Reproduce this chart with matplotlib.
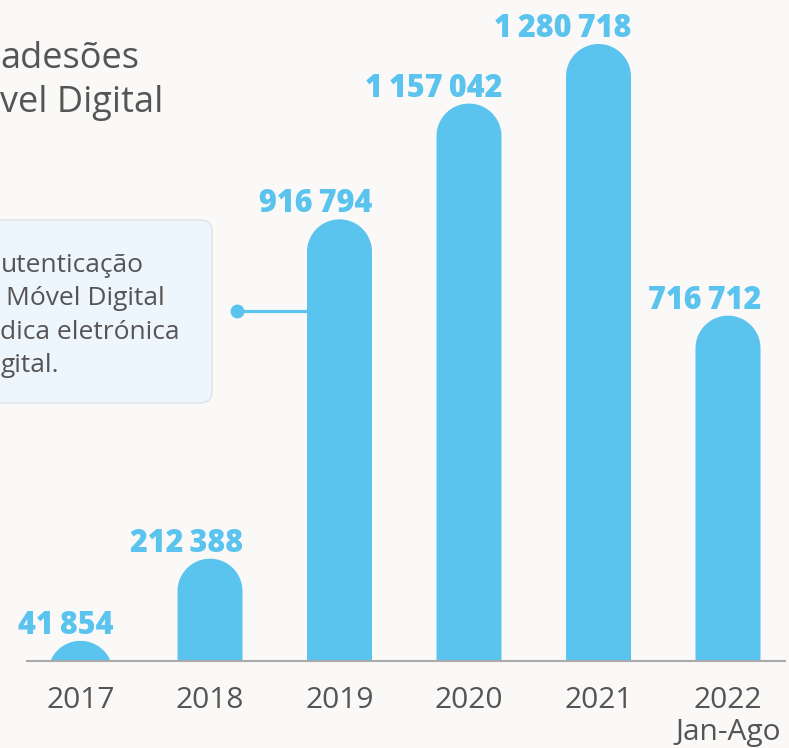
import numpy as np
import matplotlib.pyplot as plt
from matplotlib.patches import Polygon, FancyBboxPatch

years = ['2017', '2018', '2019', '2020', '2021', '2022\nJan-Ago']
adesoes = [41854, 212388, 916794, 1157042, 1280718, 716712]
value_labels = ['41\u2009854', '212\u2009388', '916\u2009794', '1\u2009157\u2009042',
                '1\u2009280\u2009718', '716\u2009712']
title_lines = ['adesões', 'vel Digital']
box_lines = ['utenticação', 'Móvel Digital', 'dica eletrónica', 'gital.']

blue = '#5BC4EE'
grey_text = '#555555'
bg = '#FAF9F8'
txt_font = 'Open Sans'

W, H = 789, 748
fig = plt.figure(figsize=(W / 100, H / 100), dpi=100, facecolor=bg)

# axes placed in pixel terms: baseline at y=661, top at y=0
ax_left, ax_right, ax_base = 27, 785, 661
ax = fig.add_axes([ax_left / W, (H - ax_base) / H, (ax_right - ax_left) / W, ax_base / H])
ax.set_facecolor(bg)

step_px = 129.5
x0_px = 80.5
ax.set_xlim(-(x0_px - ax_left) / step_px, (ax_right - x0_px) / step_px)
px_per_unit = 617.0 / 1280718
ax.set_ylim(0, ax_base / px_per_unit)

x = np.arange(len(years))
bw = 65 / step_px
r_y = (65 / 2) / px_per_unit  # cap radius in data units
t = np.linspace(0, np.pi, 60)

for xi, v, lab in zip(x, adesoes, value_labels):
    top = v - r_y
    arc = np.column_stack([xi + bw / 2 * np.cos(t), top + r_y * np.sin(t)])
    pts = np.vstack([[xi + bw / 2, -r_y], arc, [xi - bw / 2, -r_y]])
    ax.add_patch(Polygon(pts, closed=True, facecolor=blue, edgecolor='none', zorder=2))
    ax.text(xi + bw / 2 + 0.005, v + 7 / px_per_unit, lab, ha='right', va='baseline',
            color=blue, fontsize=22, fontweight='heavy', family=['Open Sans', 'DejaVu Sans'],
            zorder=3)

for s in ['top', 'right', 'left']:
    ax.spines[s].set_visible(False)
ax.spines['bottom'].set_color('#AAAAAA')
ax.spines['bottom'].set_linewidth(1.5)
ax.set_yticks([])
ax.set_xticks(x)
ax.set_xticklabels(years, fontsize=21.5, color=grey_text, family=txt_font, linespacing=1.15)
ax.tick_params(axis='x', length=0, pad=18)

# title fragment (cropped from larger graphic)
fig.text(0.5 / W, 1 - 68 / H, title_lines[0], fontsize=26, color=grey_text, family=txt_font,
         va='baseline')
fig.text(0.5 / W, 1 - 112 / H, title_lines[1], fontsize=26, color=grey_text, family=txt_font,
         va='baseline')

# annotation box
box = FancyBboxPatch((-20 / W, 1 - 403 / H), 232 / W, 183 / H,
                     boxstyle='round,pad=0,rounding_size=0.015', transform=fig.transFigure,
                     facecolor='#EDF5FD', edgecolor='#DDE3EA', linewidth=1)
fig.patches.append(box)
box_x = [0.5, 6, 0.5, 0.5]
for i, line in enumerate(box_lines):
    fig.text(box_x[i] / W, 1 - (272 + i * 33.3) / H, line, fontsize=19, color=grey_text,
             family=txt_font, va='baseline')

# connector to 2019 bar
dot_x = x[2] - bw / 2 - (307 - 237) / step_px
dot_y = (ax_base - 311) / px_per_unit
ax.plot([dot_x, x[2] - bw / 2], [dot_y, dot_y], color=blue, lw=2.3, zorder=1,
        solid_capstyle='butt')
ax.plot([dot_x], [dot_y], 'o', color=blue, ms=9, zorder=1)

fig.savefig('out.png', dpi=100, facecolor=bg)
